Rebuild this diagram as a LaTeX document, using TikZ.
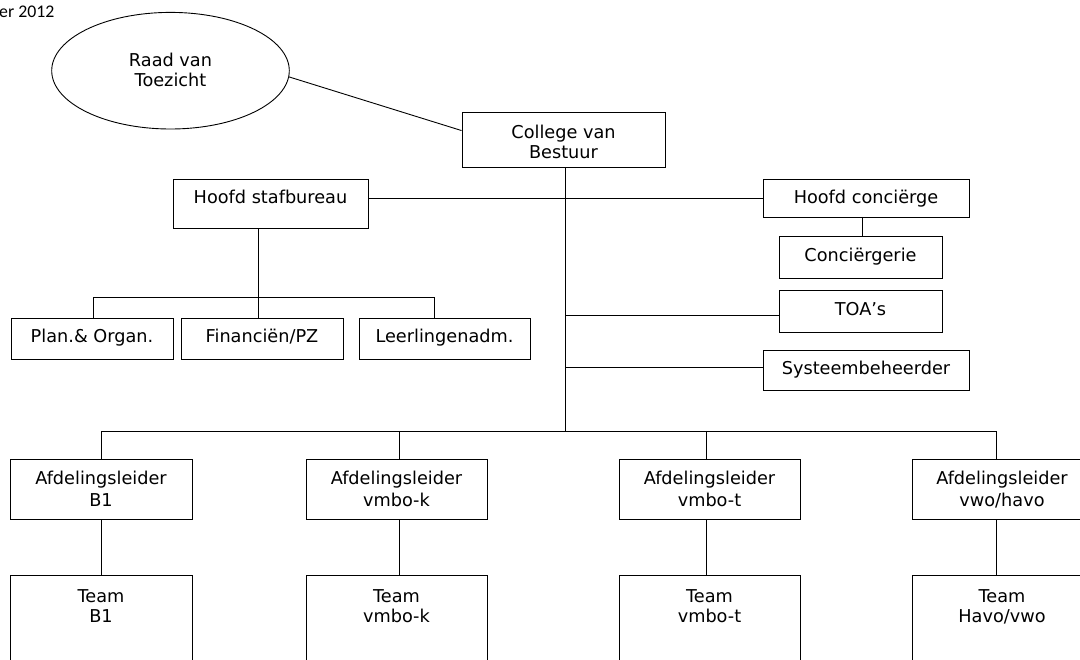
\documentclass[tikz,border=0pt]{standalone}
\usepackage{fontspec}
\setmainfont{DejaVu Sans}
\newfontfamily\datefont{Carlito}
\usetikzlibrary{shapes.geometric,calc}

\newcommand\orgfont{\fontsize{17.7}{21}\selectfont}

\tikzset{
  orgbox/.style={draw=black, line width=0.9pt, rectangle, inner sep=0pt},
  orgtext/.style={font=\orgfont, anchor=base, inner sep=0pt},
  link/.style={draw=black, line width=0.9pt},
}

% #1 name, #2 x1, #3 y1, #4 x2, #5 y2, #6 baseline of first text line, #7 text
\newcommand\orgbox[7]{%
  \node[orgbox, minimum width={(#4-#2)*1pt}, minimum height={(#5-#3)*1pt}]
    (#1) at ({(#2+#4)/2},{(#3+#5)/2}) {};
  \node[orgtext] (#1-t) at ({(#2+#4)/2},#6)
    {\begin{tabular}[t]{@{}c@{}}#7\end{tabular}};
}

\begin{document}
\begin{tikzpicture}[x=1pt,y=-1pt]
  \useasboundingbox (0,0) rectangle (1080,660);
  \clip (0,0) rectangle (1080,660);
  \fill[white] (0,0) rectangle (1080,660);

  % date line, top left
  \node[anchor=base west, inner sep=0pt, font=\datefont\fontsize{17.8}{21}\selectfont]
    (date) at (-1,17.3) {er 2012};

  % supervisory board
  \node[draw=black, line width=0.9pt, ellipse, inner sep=0pt,
        minimum width=237.6pt, minimum height=116.6pt] (rvt) at (170.5,70.7) {};
  \node[orgtext] (rvt-t) at (170.5,66.7)
    {\begin{tabular}[t]{@{}c@{}}Raad van\\[-1pt]Toezicht\end{tabular}};

  % board and staff
  \orgbox{cvb}{462}{112}{665}{167}{139}{College van\\[-1pt]Bestuur}
  \orgbox{hsb}{173}{179}{368}{228}{204}{Hoofd stafbureau}
  \orgbox{hc}{763}{179}{969}{217}{204}{Hoofd conciërge}
  \orgbox{cg}{779}{236}{942}{278}{262}{Conciërgerie}
  \orgbox{toa}{779}{290}{942}{332}{316}{TOA’s}
  \orgbox{sys}{763}{350}{969}{390}{375}{Systeembeheerder}

  \orgbox{plan}{11}{318}{173}{359}{343}{Plan.\& Organ.}
  \orgbox{fin}{181}{318}{343}{359}{343}{Financiën/PZ}
  \orgbox{leer}{359}{318}{530}{359}{343}{Leerlingenadm.}

  % departments
  \orgbox{a1}{10}{459}{192}{519}{485}{Afdelingsleider\\[1pt]B1}
  \orgbox{a2}{306}{459}{487}{519}{485}{Afdelingsleider\\[1pt]vmbo-k}
  \orgbox{a3}{619}{459}{800}{519}{485}{Afdelingsleider\\[1pt]vmbo-t}
  \orgbox{a4}{912}{459}{1092}{519}{485}{Afdelingsleider\\[1pt]vwo/havo}

  % teams
  \orgbox{t1}{10}{575}{192}{700}{602}{Team\\[-1pt]B1}
  \orgbox{t2}{306}{575}{487}{700}{602}{Team\\[-1pt]vmbo-k}
  \orgbox{t3}{619}{575}{800}{700}{602}{Team\\[-1pt]vmbo-t}
  \orgbox{t4}{912}{575}{1092}{700}{602}{Team\\[-1pt]Havo/vwo}

  % junction points
  \coordinate (trunk) at (565.5,431);
  \coordinate (jtoa) at (565.5,315);
  \coordinate (jsys) at (565.5,367);
  \coordinate (jhs) at (258,297);
  \coordinate (jp) at (93,297);
  \coordinate (jl) at (434,297);
  \coordinate (jc) at (862,217);
  \coordinate (b1) at (101,431);
  \coordinate (b2) at (399,431);
  \coordinate (b3) at (706,431);
  \coordinate (b4) at (996,431);

  % connectors
  \draw[link] (rvt.-3.3) -- ($(cvb.north west)!0.34!(cvb.south west)$);
  \draw[link] (cvb.south -| trunk) -- (trunk);
  \draw[link] (hc.west) -- (hc.west -| hsb.east);
  \draw[link] (jc) -- (jc |- cg.north);
  \draw[link] (jtoa) -- (jtoa -| toa.west);
  \draw[link] (jsys) -- (jsys -| sys.west);

  \draw[link] (jhs |- hsb.south) -- (jhs);
  \draw[link] (jp |- plan.north) -- (jp) -- (jl) -- (jl |- leer.north);
  \draw[link] (jhs) -- (jhs |- fin.north);

  \draw[link] (b1 |- a1.north) -- (b1) -- (b4) -- (b4 |- a4.north);
  \draw[link] (b2) -- (b2 |- a2.north);
  \draw[link] (b3) -- (b3 |- a3.north);
  \draw[link] (b1 |- a1.south) -- (b1 |- t1.north);
  \draw[link] (b2 |- a2.south) -- (b2 |- t2.north);
  \draw[link] (b3 |- a3.south) -- (b3 |- t3.north);
  \draw[link] (b4 |- a4.south) -- (b4 |- t4.north);
\end{tikzpicture}
\end{document}
